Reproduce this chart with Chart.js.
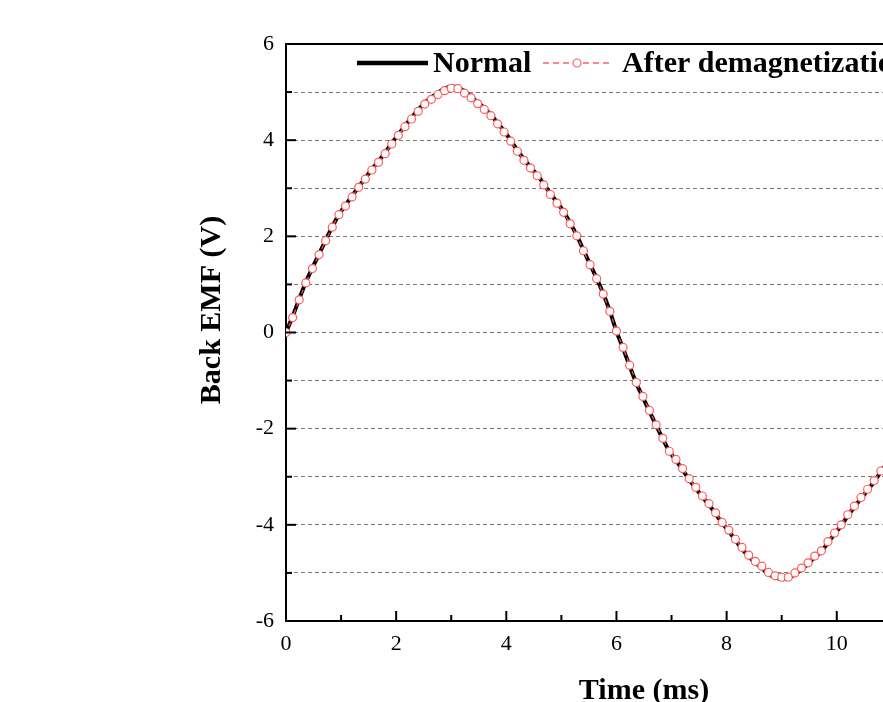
<!DOCTYPE html>
<html>
<head>
<meta charset="utf-8">
<script src="https://cdn.jsdelivr.net/npm/chart.js@4"></script>
<style>
  html, body { margin: 0; padding: 0; background: #fff; overflow: hidden; }
  #chart { display: block; }
</style>
</head>
<body>
<canvas id="chart" width="1012" height="720"></canvas>
<script>
// time axis (ms)
const timeMs = [
  0, 0.12, 0.24, 0.36, 0.48, 0.6, 0.72, 0.84, 0.96, 1.08,
  1.2, 1.32, 1.44, 1.56, 1.68, 1.8, 1.92, 2.04, 2.16, 2.28,
  2.4, 2.52, 2.64, 2.76, 2.88, 3.0, 3.12, 3.24, 3.36, 3.48,
  3.6, 3.72, 3.84, 3.96, 4.08, 4.2, 4.32, 4.44, 4.56, 4.68,
  4.8, 4.92, 5.04, 5.16, 5.28, 5.4, 5.52, 5.64, 5.76, 5.88,
  6.0, 6.12, 6.24, 6.36, 6.48, 6.6, 6.72, 6.84, 6.96, 7.08,
  7.2, 7.32, 7.44, 7.56, 7.68, 7.8, 7.92, 8.04, 8.16, 8.28,
  8.4, 8.52, 8.64, 8.76, 8.88, 9.0, 9.12, 9.24, 9.36, 9.48,
  9.6, 9.72, 9.84, 9.96, 10.08, 10.2, 10.32, 10.44, 10.56, 10.68,
  10.8, 10.92, 11.04
];

// back EMF, normal machine (V)
const emfNormal = [
  0, 0.33, 0.70, 1.05, 1.35, 1.63, 1.92, 2.20, 2.46, 2.65,
  2.84, 3.03, 3.21, 3.40, 3.56, 3.74, 3.94, 4.12, 4.30, 4.47,
  4.63, 4.78, 4.89, 4.99, 5.08, 5.12, 5.10, 5.02, 4.91, 4.79,
  4.67, 4.53, 4.36, 4.19, 4.00, 3.79, 3.60, 3.44, 3.28, 3.09,
  2.89, 2.71, 2.52, 2.28, 2.02, 1.72, 1.42, 1.13, 0.81, 0.45,
  0.02, -0.33, -0.70, -1.06, -1.35, -1.64, -1.93, -2.21, -2.48, -2.66,
  -2.85, -3.06, -3.24, -3.42, -3.58, -3.77, -3.97, -4.13, -4.32, -4.50,
  -4.66, -4.79, -4.90, -5.03, -5.10, -5.13, -5.12, -5.03, -4.93, -4.81,
  -4.67, -4.56, -4.37, -4.19, -4.02, -3.81, -3.63, -3.45, -3.28, -3.10,
  -2.90, -2.70, -2.50
];

// back EMF after demagnetization (V)
const emfDemag = [
  0, 0.31, 0.68, 1.03, 1.33, 1.62, 1.91, 2.19, 2.45, 2.63,
  2.82, 3.02, 3.19, 3.38, 3.54, 3.72, 3.92, 4.10, 4.28, 4.44,
  4.60, 4.75, 4.85, 4.95, 5.03, 5.08, 5.07, 4.98, 4.88, 4.76,
  4.64, 4.51, 4.34, 4.17, 3.98, 3.77, 3.58, 3.42, 3.26, 3.07,
  2.87, 2.69, 2.50, 2.26, 2.01, 1.70, 1.41, 1.12, 0.80, 0.44,
  0.03, -0.31, -0.68, -1.04, -1.33, -1.62, -1.92, -2.20, -2.47, -2.64,
  -2.83, -3.04, -3.22, -3.40, -3.56, -3.75, -3.95, -4.11, -4.30, -4.47,
  -4.63, -4.76, -4.86, -4.99, -5.06, -5.09, -5.09, -5.00, -4.90, -4.79,
  -4.65, -4.54, -4.35, -4.17, -4.00, -3.79, -3.61, -3.43, -3.26, -3.08,
  -2.88, -2.68, -2.48
];

const seriesNames = ["Normal", "After demagnetization"];
const xTickLabels = [0, 2, 4, 6, 8, 10, 12];
const yTickLabels = [-6, -4, -2, 0, 2, 4, 6];

const FONT = "'Liberation Serif', 'Times New Roman', serif";
const RED = "#ff5c5c";

const toPoints = (ys) => timeMs.map((t, i) => ({ x: t, y: ys[i] }));

// inward ticks, top frame line and the in-plot legend
const framePlugin = {
  id: "frame",
  afterDatasetsDraw(chart) {
    const { ctx, chartArea, scales } = chart;
    ctx.save();
    ctx.strokeStyle = "#000";
    ctx.lineWidth = 2;
    ctx.beginPath();
    ctx.moveTo(chartArea.left - 1, chartArea.top);
    ctx.lineTo(chartArea.right, chartArea.top);
    ctx.stroke();

    for (let v = -5; v <= 5; v++) {
      const py = scales.y.getPixelForValue(v);
      const len = v % 2 === 0 ? 10 : 6;
      ctx.beginPath();
      ctx.moveTo(chartArea.left, py);
      ctx.lineTo(chartArea.left + len, py);
      ctx.stroke();
    }
    for (let v = 1; v <= 12; v++) {
      const px = scales.x.getPixelForValue(v);
      const len = v % 2 === 0 ? 10 : 6;
      ctx.beginPath();
      ctx.moveTo(px, chartArea.bottom);
      ctx.lineTo(px, chartArea.bottom - len);
      ctx.stroke();
    }
    ctx.restore();
  },
  afterDraw(chart) {
    const { ctx } = chart;
    const ly = 63;
    ctx.save();
    ctx.strokeStyle = "#000";
    ctx.lineWidth = 4.5;
    ctx.beginPath();
    ctx.moveTo(357, ly);
    ctx.lineTo(428, ly);
    ctx.stroke();

    ctx.strokeStyle = RED;
    ctx.lineWidth = 1.5;
    ctx.setLineDash([6, 4]);
    ctx.beginPath();
    ctx.moveTo(543, ly);
    ctx.lineTo(612, ly);
    ctx.stroke();
    ctx.setLineDash([]);
    ctx.lineWidth = 1.2;
    ctx.fillStyle = "#fff";
    ctx.beginPath();
    ctx.arc(577, ly, 4, 0, Math.PI * 2);
    ctx.fill();
    ctx.stroke();

    ctx.fillStyle = "#000";
    ctx.font = "bold 30px " + FONT;
    ctx.textBaseline = "middle";
    ctx.textAlign = "left";
    ctx.fillText(seriesNames[0], 433, ly + 1);
    ctx.fillText(seriesNames[1], 622, ly + 1);
    ctx.restore();
  },
};

new Chart(document.getElementById("chart").getContext("2d"), {
  type: "line",
  data: {
    datasets: [
      {
        label: seriesNames[0],
        data: toPoints(emfNormal),
        borderColor: "#000",
        borderWidth: 4,
        pointRadius: 0,
        tension: 0,
        order: 2,
      },
      {
        label: seriesNames[1],
        data: toPoints(emfDemag),
        borderColor: RED,
        borderWidth: 1.2,
        borderDash: [4, 3],
        pointRadius: 4,
        pointBackgroundColor: "#fff",
        pointBorderColor: RED,
        pointBorderWidth: 1.2,
        tension: 0,
        order: 1,
      },
    ],
  },
  options: {
    responsive: false,
    animation: false,
    layout: { padding: { left: 180, top: 44, right: 10, bottom: 0 } },
    plugins: {
      legend: { display: false },
      tooltip: { enabled: false },
    },
    scales: {
      x: {
        type: "linear",
        min: 0,
        max: 13,
        afterFit: (scale) => { scale.height = 99; },
        grid: { color: "transparent", drawTicks: false },
        border: { display: true, color: "#000", width: 2 },
        ticks: {
          stepSize: 1,
          padding: 10,
          color: "#000",
          font: { family: FONT, size: 22 },
          maxRotation: 0,
          autoSkip: false,
          callback: (v) => (xTickLabels.includes(v) ? String(v) : ""),
        },
        title: {
          display: true,
          text: "Time (ms)",
          color: "#000",
          font: { family: FONT, size: 30, weight: "bold" },
          padding: { top: 0, bottom: 11 },
        },
      },
      y: {
        min: -6,
        max: 6,
        afterFit: (scale) => { scale.width = 106; },
        grid: {
          drawTicks: false,
          lineWidth: 1,
          color: (c) => (c.tick && Math.abs(c.tick.value) === 6 ? "transparent" : "#7a7a7a"),
        },
        border: { display: true, color: "#000", width: 2, dash: [4, 3] },
        ticks: {
          stepSize: 1,
          padding: 12,
          color: "#000",
          font: { family: FONT, size: 22 },
          autoSkip: false,
          callback: (v) => (yTickLabels.includes(v) ? String(v) : ""),
        },
        title: {
          display: true,
          text: "      Back EMF (V)",
          color: "#000",
          font: { family: FONT, size: 30, weight: "bold" },
          padding: { top: 14, bottom: 0 },
        },
      },
    },
  },
  plugins: [framePlugin],
});
</script>
</body>
</html>
